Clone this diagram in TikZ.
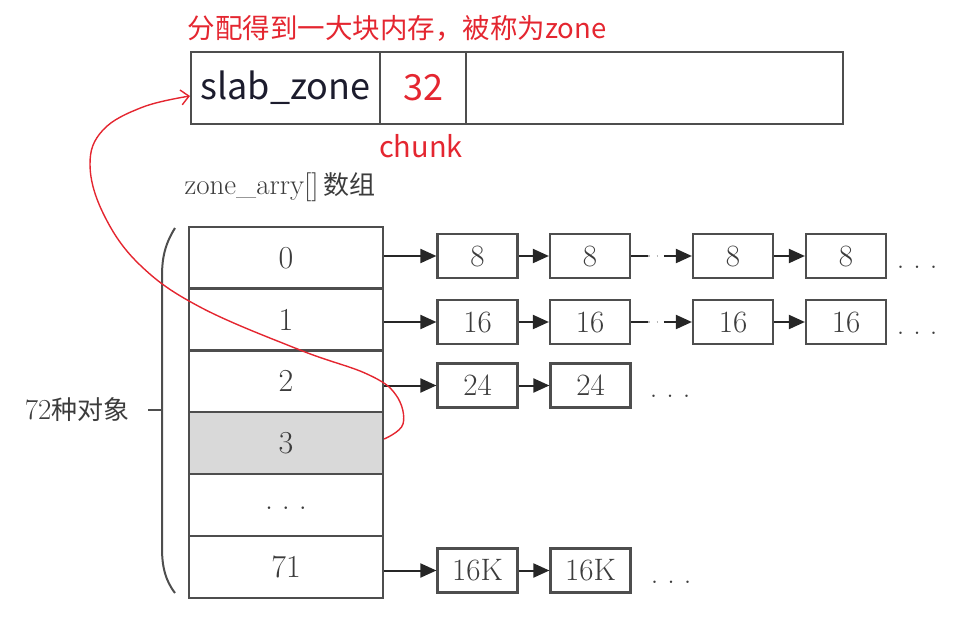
\documentclass[tikz,border=0pt]{standalone}
\usepackage{fontspec}
\newfontfamily\cjk{Noto Sans CJK SC}
\usetikzlibrary{arrows.meta}
\definecolor{redc}{RGB}{228,38,48}
\definecolor{lc}{RGB}{78,78,78}
\definecolor{tc}{RGB}{60,60,60}
\definecolor{navy}{RGB}{28,28,45}
\newcommand{\spdots}{.\hspace{9pt}.\hspace{9pt}.}
\begin{document}
\begin{tikzpicture}[x=1pt,y=-1pt,
  topcell/.style={draw=lc, line width=2pt, minimum height=72pt, inner sep=0pt},
  cell/.style={draw=lc, line width=2.2pt, minimum width=194pt, minimum height=62pt, inner sep=0pt, font=\fontsize{32}{32}\selectfont, text=tc},
  lbox/.style={draw=lc, line width=2.2pt, minimum width=80pt, minimum height=44pt, inner sep=0pt, font=\fontsize{31}{31}\selectfont, text=tc},
  link/.style={draw=black!85, line width=2pt, -{Triangle[length=16pt,width=14pt]}},
  plain/.style={draw=black!85, line width=2pt},
  fadedots/.style={draw=gray!55, line width=1.6pt, dash pattern=on 1.5pt off 7pt},
  ell/.style={font=\fontsize{30}{30}\selectfont, text=tc, anchor=base},
  redtxt/.style={text=redc, font=\cjk\fontsize{27.5}{27.5}\selectfont}
]
\useasboundingbox (0,0) rectangle (970,624);

% top block
\node[topcell, minimum width=189pt, text=navy, font=\cjk\fontsize{36}{36}\selectfont] (tz) at (285.5,88) {slab\_zone};
\node[topcell, minimum width=86pt, text=redc, font=\cjk\fontsize{36}{36}\selectfont] (tc) at (423,88) {32};
\node[topcell, minimum width=377pt] (tr) at (654.5,88) {};
\node[redtxt, anchor=west] (title) at (184,28) {分配得到一大块内存，被称为zone};
\node[redtxt, font=\cjk\fontsize{29}{29}\selectfont] (chunk) at (421,146) {chunk};

% array caption
\node[anchor=west, text=tc, font=\fontsize{29}{29}\selectfont] (cap) at (181,187) {zone\_arry[]\,{\cjk\fontsize{26}{26}\selectfont 数组}};

% array cells
\node[cell] (c0) at (286,258) {0};
\node[cell] (c1) at (286,319.5) {1};
\node[cell] (c2) at (286,381) {2};
\node[cell, fill=gray!30] (c3) at (286,443) {3};
\node[cell] (c4) at (286,505) {\raisebox{-8pt}{\spdots}};
\node[cell] (c5) at (286,567) {71};

% brace and label
\draw[lc, line width=2pt] (175,228) .. controls (165,244) and (162,258) .. (162,276) -- (162,548) .. controls (162,566) and (165,580) .. (175,593);
\coordinate (bmid) at (162,410);
\node[anchor=east, text=tc, font=\fontsize{29}{29}\selectfont] (lab) at (133,410) {72{\cjk\fontsize{26}{26}\selectfont 种对象}};
\draw[lc, line width=2pt] (bmid) -- ++(-14,0);

% row 0
\node[lbox] (l00) at (477.5,256) {8};
\node[lbox] (l01) at (590,256) {8};
\node[lbox] (l02) at (733,256) {8};
\node[lbox] (l03) at (846,256) {8};
\node[ell] (d0) at (917,268) {\spdots};
% row 1
\node[lbox] (l10) at (477.5,322) {16};
\node[lbox] (l11) at (590,322) {16};
\node[lbox] (l12) at (733,322) {16};
\node[lbox] (l13) at (846,322) {16};
\node[ell] (d1) at (917,334) {\spdots};
% row 2
\node[lbox] (l20) at (477.5,385.5) {24};
\node[lbox] (l21) at (590.5,385.5) {24};
\node[ell] (d2) at (670,397) {\spdots};
% row 71
\node[lbox] (l50) at (477.5,570.5) {16K};
\node[lbox] (l51) at (590.5,570.5) {16K};
\node[ell] (d5) at (671,583) {\spdots};

% links
\draw[link] (l00.west -| c0.east) -- (l00.west);
\draw[link] (l00) -- (l01);
\draw[plain] (l01.east) -- ++(17,0) coordinate (g0a);
\draw[link] (l02.west) ++(-28,0) coordinate (g0b) -- (l02.west);
\draw[fadedots] (g0a) -- (g0b);
\draw[link] (l02) -- (l03);

\draw[link] (l10.west -| c1.east) -- (l10.west);
\draw[link] (l10) -- (l11);
\draw[plain] (l11.east) -- ++(17,0) coordinate (g1a);
\draw[link] (l12.west) ++(-28,0) coordinate (g1b) -- (l12.west);
\draw[fadedots] (g1a) -- (g1b);
\draw[link] (l12) -- (l13);

\draw[link] (l20.west -| c2.east) -- (l20.west);
\draw[link] (l20) -- (l21);

\draw[link] (l50.west -| c5.east) -- (l50.west);
\draw[link] (l50) -- (l51);

% red curve
\draw[redc, line width=1.4pt, -{Straight Barb[length=8pt,width=15pt]}]
  plot[smooth, tension=0.65] coordinates {([yshift=4pt]c3.east) (403,424) (396,395) (367,374) (300,350) (200,307) (140,265) (104,215) (90,165) (103,130) (143,107) ([yshift=-8pt]tz.west)};
\end{tikzpicture}
\end{document}
